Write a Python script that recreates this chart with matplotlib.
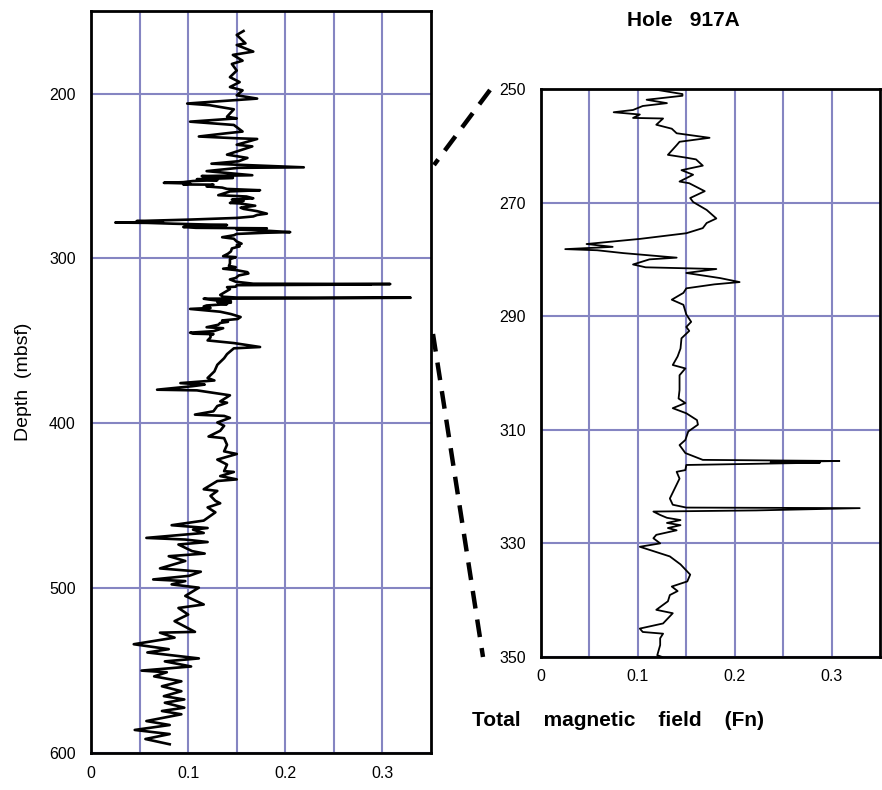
import numpy as np
import matplotlib
matplotlib.use("Agg")
import matplotlib.pyplot as plt
from matplotlib.lines import Line2D

plt.rcParams['font.family'] = ['Liberation Sans', 'DejaVu Sans']

# --- data (depth in mbsf, total magnetic field in Fn) ---
depth_upper = [162, 164.4, 169.5, 170.5, 174.5, 176.5, 180, 182, 186, 190, 193, 196, 198,
               201, 203, 206, 207, 209.5, 214, 215, 217, 219, 223, 224, 226, 227, 227.5,
               231, 232, 237, 239, 241, 242.5, 244.7, 245, 247, 249.5]
field_upper = [0.157, 0.150, 0.159, 0.150, 0.167, 0.146, 0.156, 0.145, 0.150, 0.143, 0.153,
               0.143, 0.156, 0.150, 0.171, 0.099, 0.122, 0.147, 0.140, 0.150, 0.102, 0.147,
               0.156, 0.140, 0.111, 0.147, 0.171, 0.150, 0.166, 0.140, 0.161, 0.152, 0.124,
               0.219, 0.152, 0.119, 0.166]

depth_mid = [250.0, 250.9, 251.2, 251.9, 252.5, 253.0, 253.7, 254.1, 254.5, 255.1, 255.2,
             256.3, 257.0, 257.8, 258.6, 259.3, 259.9, 261.6, 262.1, 262.4, 263.5, 264.3,
             265.1, 266.3, 266.6, 268.0, 269.2, 269.9, 271.3, 272.8, 273.6, 274.5, 275.4,
             276.4, 277.3, 277.8, 278.2, 278.4, 278.9, 279.5, 279.7, 280.0, 280.9, 281.4,
             281.7, 282.4, 283.3, 284.0, 284.4, 285.1, 285.9, 287.1, 288.0, 289.7, 291.0,
             291.9, 292.6, 293.9, 295.7, 297.1, 298.6, 299.2, 300.4, 303.0, 304.5, 305.3,
             306.2, 307.1, 308.3, 309.1, 310.3, 311.8, 312.7, 314.1, 315.3, 315.5, 315.7,
             315.8, 316.2, 317.1, 317.4, 318.6, 320.0, 322.1, 323.2, 323.7, 323.8, 324.2,
             324.4, 325.0, 325.5, 325.9, 326.4, 326.8, 327.3, 327.7, 328.5, 329.1, 330.0,
             330.6, 331.2, 332.3, 333.7, 335.5, 336.7, 337.6, 338.4, 339.1, 340.2, 341.7,
             342.3, 344.1, 345.0, 345.6, 345.9, 346.7, 347.9, 349.7, 350.0]
field_mid = [0.114, 0.146, 0.146, 0.109, 0.130, 0.105, 0.095, 0.075, 0.102, 0.095, 0.126,
             0.119, 0.135, 0.140, 0.174, 0.143, 0.140, 0.131, 0.150, 0.160, 0.167, 0.145,
             0.157, 0.143, 0.153, 0.169, 0.154, 0.157, 0.171, 0.181, 0.171, 0.167, 0.150,
             0.102, 0.047, 0.074, 0.025, 0.058, 0.085, 0.126, 0.140, 0.112, 0.095, 0.108,
             0.181, 0.150, 0.185, 0.205, 0.179, 0.150, 0.147, 0.135, 0.147, 0.150, 0.155,
             0.150, 0.153, 0.145, 0.144, 0.141, 0.136, 0.149, 0.143, 0.143, 0.142, 0.149,
             0.136, 0.150, 0.161, 0.162, 0.152, 0.149, 0.143, 0.149, 0.167, 0.308, 0.237,
             0.288, 0.150, 0.149, 0.140, 0.143, 0.139, 0.133, 0.136, 0.150, 0.329, 0.222,
             0.116, 0.123, 0.130, 0.144, 0.130, 0.144, 0.131, 0.140, 0.119, 0.116, 0.123,
             0.102, 0.113, 0.133, 0.144, 0.154, 0.151, 0.135, 0.141, 0.133, 0.131, 0.119,
             0.136, 0.126, 0.102, 0.105, 0.126, 0.123, 0.123, 0.120, 0.125]

depth_lower = [351.3, 353.7, 354.5, 358, 360.5, 364.5, 368.5, 372.5, 374, 375.6, 376.5,
               377.5, 379.6, 380, 381.6, 383, 386.7, 387.5, 389.5, 392.7, 394.7, 395.5,
               396.7, 399.5, 401.5, 404.5, 408, 409, 413, 417, 418.6, 422, 425, 429, 429.5,
               432, 434, 435, 440, 441, 444, 447, 448.5, 451, 454, 459, 461.8, 463.5, 464.5,
               466.5, 469.5, 470.5, 472, 473.5, 477.5, 479, 480.6, 483.5, 488, 490, 492.5,
               494.7, 495.7, 497.7, 499.7, 504.7, 509.9, 512, 516, 520, 526.5, 527, 530,
               534, 537, 539, 542.6, 544.4, 547.5, 550, 551, 553.5, 556.5, 559.5, 562.5,
               565.5, 567.5, 569.5, 572.5, 574.5, 576.5, 580.6, 583, 586, 588.5, 591.5, 594.7]
field_lower = [0.147, 0.174, 0.147, 0.140, 0.137, 0.130, 0.127, 0.120, 0.127, 0.092, 0.117,
               0.104, 0.068, 0.109, 0.127, 0.143, 0.133, 0.140, 0.130, 0.126, 0.107, 0.137,
               0.143, 0.130, 0.137, 0.133, 0.121, 0.137, 0.140, 0.137, 0.150, 0.130, 0.140,
               0.137, 0.147, 0.133, 0.150, 0.130, 0.116, 0.130, 0.123, 0.128, 0.133, 0.120,
               0.128, 0.116, 0.083, 0.120, 0.105, 0.116, 0.057, 0.097, 0.120, 0.090, 0.104,
               0.117, 0.080, 0.097, 0.071, 0.113, 0.101, 0.064, 0.097, 0.083, 0.111, 0.097,
               0.116, 0.090, 0.100, 0.086, 0.107, 0.071, 0.086, 0.044, 0.080, 0.058, 0.111,
               0.076, 0.103, 0.052, 0.078, 0.065, 0.093, 0.073, 0.093, 0.075, 0.096, 0.076,
               0.096, 0.073, 0.093, 0.057, 0.081, 0.045, 0.081, 0.056, 0.081]

depth = np.array(depth_upper + depth_mid + depth_lower)
field = np.array(field_upper + field_mid + field_lower)

x_ticks = [0, 0.05, 0.1, 0.15, 0.2, 0.25, 0.3]
x_labels = ['0', '', '0.1', '', '0.2', '', '0.3']
left_yticks = [200, 300, 400, 500, 600]
right_yticks = [250, 270, 290, 310, 330, 350]

grid_col = '#8585c2'

fig = plt.figure(figsize=(8.82, 7.9), dpi=100)
ax1 = fig.add_axes([0.1032, 0.0468, 0.3855, 0.939])
ax2 = fig.add_axes([0.6134, 0.1684, 0.3844, 0.719])


def style(ax, yticks):
    ax.set_xlim(0, 0.35)
    ax.set_xticks(x_ticks)
    ax.set_xticklabels(x_labels)
    ax.set_yticks(yticks)
    ax.grid(True, color=grid_col, lw=1.5)
    ax.set_axisbelow(True)
    ax.tick_params(length=0, labelsize=11.5)
    ax.tick_params(axis='y', pad=11)
    ax.tick_params(axis='x', pad=9)
    for s in ax.spines.values():
        s.set_linewidth(2)


ax1.plot(field, depth, color='black', lw=1.9)
style(ax1, left_yticks)
ax1.set_ylim(600, 150)
ax1.set_ylabel('Depth  (mbsf)', fontsize=14, labelpad=12)

m = (depth >= 250) & (depth <= 350)
ax2.plot(field[m], depth[m], color='black', lw=1.3)
style(ax2, right_yticks)
ax2.set_ylim(350, 250)

fig.text(683 / 882, 1 - 21 / 790, 'Hole   917A', ha='center', va='center',
         fontsize=15, fontweight='bold')
fig.text(618 / 882, 1 - 720 / 790, 'Total    magnetic    field    (Fn)', ha='center',
         va='center', fontsize=15, fontweight='bold')

# dashed connectors between the overview and the detail panel
for (xa, ya), (xb, yb) in [((490, 90), (434, 165)), ((433, 334), (483, 657))]:
    fig.add_artist(Line2D([xa / 882, xb / 882], [1 - ya / 790, 1 - yb / 790],
                          transform=fig.transFigure, color='black', lw=3.2,
                          dashes=(4, 2.5)))

fig.savefig('out.png', dpi=100)
